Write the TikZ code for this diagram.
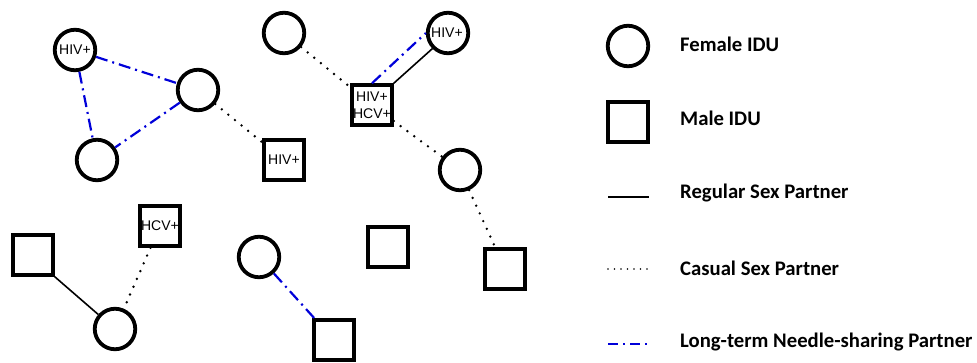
\documentclass[tikz,border=0pt]{standalone}
\usepackage{fontspec}
\setmainfont{Liberation Sans}
\newfontfamily\legfont{Carlito}
\begin{document}
\begin{tikzpicture}[x=1pt,y=-1pt,
  fem/.style={circle,draw=black,line width=3.8pt,minimum size=40.5pt,inner sep=0pt,font=\fontsize{14}{15}\selectfont},
  mal/.style={rectangle,draw=black,line width=4pt,minimum size=39.5pt,inner sep=0pt,align=center,font=\fontsize{14}{17.5}\selectfont},
  regular/.style={draw=black,line width=1.6pt},
  casual/.style={draw=black,line width=2.7pt,line cap=round,dash pattern=on 0pt off 8.5pt},
  needle/.style={draw=blue!85!black,line width=2.2pt,dash pattern=on 12pt off 5pt on 2pt off 5pt},
  leg/.style={anchor=west,font=\legfont\bfseries\fontsize{20.7}{24}\selectfont,inner sep=0pt}]
\useasboundingbox (0,0) rectangle (977,362);
% nodes
\node[fem] (a) at (75,50) {HIV+};
\node[fem] (b) at (198,90) {};
\node[fem] (c) at (97,160) {};
\node[mal] (d) at (284,160) {HIV+};
\node[fem] (e) at (284,33) {};
\node[fem] (f) at (448,33) {HIV+\hspace*{2pt}};
\node[mal] (g) at (372,105) {HIV+\\HCV+};
\node[fem] (h) at (460,170) {};
\node[mal] (i) at (505,269) {};
\node[mal] (j) at (388,247) {};
\node[mal] (k) at (33,255) {};
\node[mal] (l) at (160,226) {HCV+};
\node[fem] (m) at (115,329) {};
\node[fem] (n) at (259,257) {};
\node[mal] (o) at (334,340) {};
% connectors
\draw[needle] (a) -- (b);
\draw[needle] (a) -- (c);
\draw[needle] (b) -- (c);
\draw[casual] (b) -- (d);
\draw[casual] (e) -- (g);
\draw[needle] (g.north) -- (f.west);
\draw[regular] (g.north east) -- (f.south west);
\draw[casual] (g) -- (h);
\draw[casual] (h) -- (i);
\draw[regular] (k.south east) -- (m);
\draw[casual] (l) -- (m);
\draw[needle] (n) -- (o);
% legend
\node[fem] (lf) at (628,46) {};
\node[mal] (lm) at (628,122) {};
\coordinate (r1) at (608,197); \coordinate (r2) at (649,197);
\coordinate (c1) at (608,269); \coordinate (c2) at (649,269);
\coordinate (n1) at (608,344); \coordinate (n2) at (649,344);
\draw[regular] (r1) -- (r2);
\draw[casual,line width=1.8pt,dash pattern=on 0pt off 6.5pt] (c1) -- (c2);
\draw[needle,dash pattern=on 10pt off 5pt on 2pt off 5pt] (n1) -- (n2);
\node[leg] (t1) at (680,44) {Female IDU};
\node[leg] (t2) at (680,118) {Male IDU};
\node[leg] (t3) at (680,193) {Regular Sex Partner};
\node[leg] (t4) at (680,268) {Casual Sex Partner};
\node[leg] (t5) at (680,342) {Long-term Needle-sharing Partner};
\end{tikzpicture}
\end{document}
